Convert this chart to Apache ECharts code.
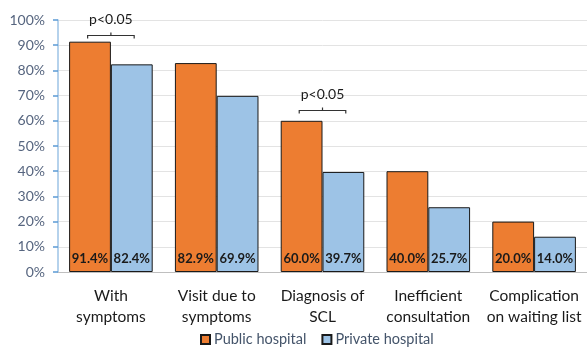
<!DOCTYPE html>
<html>
<head>
<meta charset="utf-8">
<script src="https://cdn.jsdelivr.net/npm/echarts@6/dist/echarts.min.js"></script>
<style>
  html, body { margin: 0; padding: 0; background: #fff; }
  #chart { width: 587px; height: 353px; }
</style>
</head>
<body>
<div id="chart"></div>
<script>
// Categories and values (percent)
const categories = [
  'With\nsymptoms',
  'Visit due to\nsymptoms',
  'Diagnosis of\nSCL',
  'Inefficient\nconsultation',
  'Complication\non waiting list'
];
const publicHospital = [91.4, 82.9, 60.0, 40.0, 20.0];
const privateHospital = [82.4, 69.9, 39.7, 25.7, 14.0];
const seriesNames = ['Public hospital', 'Private hospital'];
// Significance brackets: category index, bracket height (percent) and label
const significance = [
  { index: 0, level: 94.0, text: 'p<0.05' },
  { index: 2, level: 64.3, text: 'p<0.05' }
];

const FONT = 'Lato, "Open Sans", sans-serif';
const chart = echarts.init(document.getElementById('chart'), null, { renderer: 'canvas' });

const valueLabel = {
  show: true,
  position: 'insideBottom',
  distance: 7,
  formatter: p => p.value.toFixed(1) + '%',
  color: '#1a1a1a',
  fontWeight: 'bold',
  fontSize: 13,
  fontFamily: FONT
};

chart.setOption({
  animation: false,
  grid: { left: 58, right: -3, top: 20, bottom: 81 },
  legend: {
    bottom: 1,
    left: 195,
    itemWidth: 9,
    itemHeight: 9,
    itemGap: 15,
    icon: 'rect',
    textStyle: { color: '#44546A', fontSize: 14.5, fontFamily: FONT, padding: [0, 0, 0, -1] },
    data: seriesNames
  },
  xAxis: {
    type: 'category',
    data: categories,
    axisLine: { lineStyle: { color: '#BFBFBF', width: 1 } },
    axisTick: { show: false },
    axisLabel: {
      color: '#1a1a1a', fontSize: 15.5, fontFamily: FONT,
      lineHeight: 21, margin: 13, interval: 0
    }
  },
  yAxis: {
    type: 'value',
    min: 0, max: 100, interval: 10,
    axisLine: { show: true, lineStyle: { color: '#9DC3E6', width: 1.5 } },
    axisTick: { show: true, inside: false, length: 5, lineStyle: { color: '#5B9BD5', width: 1.5 } },
    splitLine: { lineStyle: { color: '#E3E3E3', width: 1 } },
    axisLabel: {
      formatter: '{value}%', color: '#56657F', fontSize: 14,
      fontFamily: FONT, margin: 13
    }
  },
  series: [
    {
      name: seriesNames[0], type: 'bar', data: publicHospital,
      barGap: '0%', barCategoryGap: '21%',
      itemStyle: { color: '#ED7D31', borderColor: '#1a1a1a', borderWidth: 1 },
      label: valueLabel
    },
    {
      name: seriesNames[1], type: 'bar', data: privateHospital,
      itemStyle: { color: '#9DC3E6', borderColor: '#1a1a1a', borderWidth: 1 },
      label: valueLabel
    }
  ]
});

// Significance brackets placed from the axis scales
function drawBrackets() {
  const elements = [];
  const x0 = chart.convertToPixel({ xAxisIndex: 0 }, 0);
  const x1 = chart.convertToPixel({ xAxisIndex: 0 }, 1);
  const half = (x1 - x0) * 0.22;
  const color = '#333';
  significance.forEach(s => {
    const center = chart.convertToPixel({ xAxisIndex: 0 }, s.index);
    const y = Math.round(chart.convertToPixel({ yAxisIndex: 0 }, s.level)) + 0.5;
    elements.push({
      type: 'polyline',
      shape: { points: [[center - half, y + 3], [center - half, y], [center + half, y], [center + half, y + 3]] },
      style: { stroke: color, lineWidth: 1.2, fill: null }
    });
    elements.push({
      type: 'line',
      shape: { x1: center, y1: y, x2: center, y2: y - 3 },
      style: { stroke: color, lineWidth: 1.2 }
    });
    elements.push({
      type: 'text',
      x: center, y: y - 9,
      style: { text: s.text, fill: '#1a1a1a', fontSize: 14, fontFamily: FONT, align: 'center', verticalAlign: 'bottom' }
    });
  });
  chart.setOption({ graphic: elements });
}
drawBrackets();
</script>
</body>
</html>
